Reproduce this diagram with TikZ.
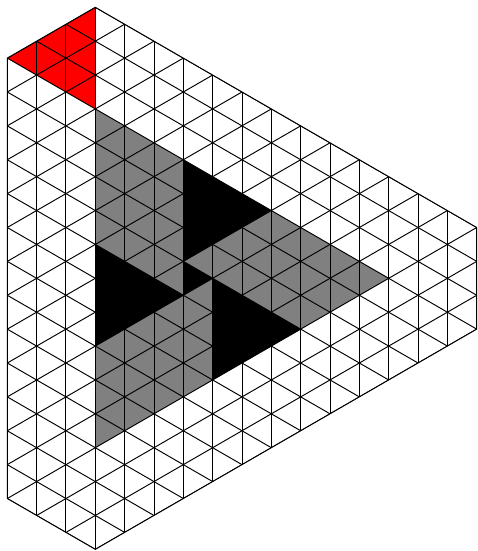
\documentclass[tikz,border=0pt]{standalone}
\usepackage{tikz}
\definecolor{midgray}{RGB}{128,128,128}
\definecolor{fullred}{RGB}{255,0,0}
\begin{document}
\begin{tikzpicture}[x={(0.8660254cm,0cm)},y={(0cm,-0.5cm)},
  gridline/.style={line width=0.8pt,black},
  redfill/.style={fill=fullred},
  grayfill/.style={fill=midgray},
  blackfill/.style={fill=black}]
\path[use as bounding box] (-0.215cm,0.215cm) rectangle (13.865cm,-16.049cm);
% coloured regions
\path[redfill] (0,3) -- (3,0) -- (3,6) -- cycle;
\path[grayfill] (3,6) -- (13,16) -- (3,26) -- cycle;
\path[blackfill] (6,9) -- (9,12) -- (6,15) -- cycle;
\path[blackfill] (3,14) -- (6,17) -- (3,20) -- cycle;
\path[blackfill] (7,16) -- (10,19) -- (7,22) -- cycle;
\path[blackfill] (6,15) -- (7,16) -- (6,17) -- cycle;
% lattice
\begin{scope}
\clip (3,0) -- (16,13) -- (16,19) -- (3,32) -- (0,29) -- (0,3) -- cycle;
\foreach \i in {0,...,16} {\draw[gridline] (\i,-1) -- (\i,33);}
\foreach \c in {-31,-29,...,33} {\draw[gridline] (0,\c) -- (16,\c+16);}
\foreach \c in {1,3,...,49} {\draw[gridline] (0,\c) -- (16,\c-16);}
\end{scope}
\draw[gridline,line join=round] (3,0) -- (16,13) -- (16,19) -- (3,32) -- (0,29) -- (0,3) -- cycle;
\end{tikzpicture}
\end{document}
